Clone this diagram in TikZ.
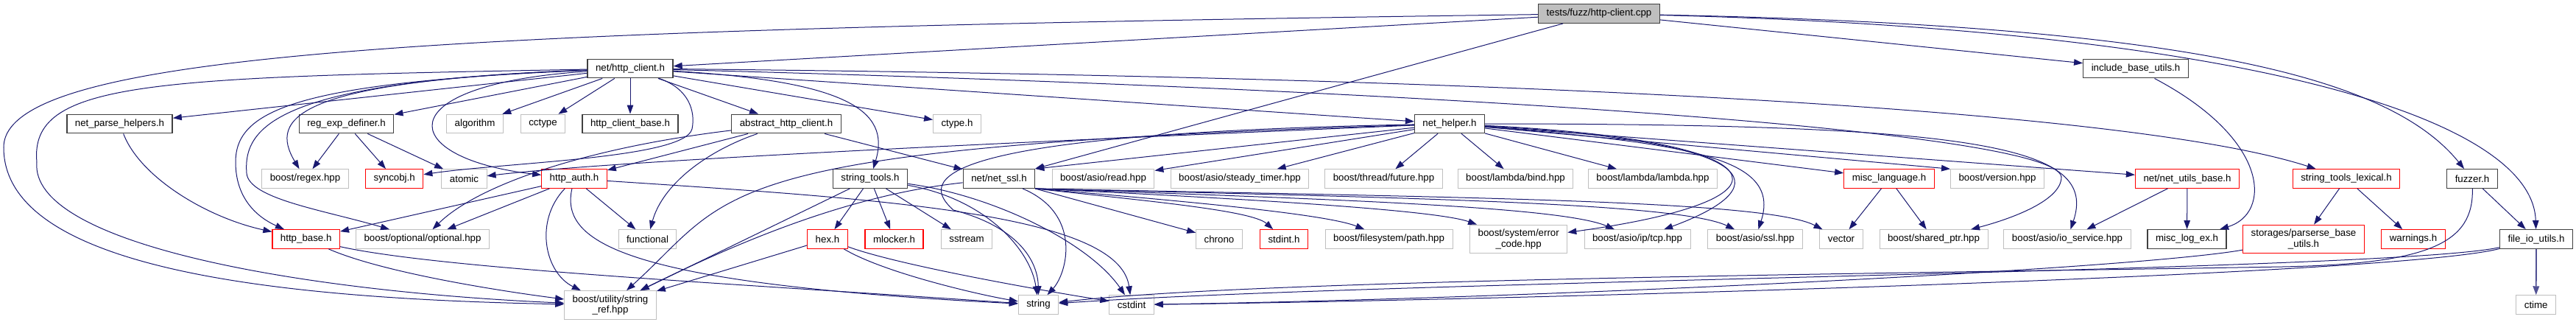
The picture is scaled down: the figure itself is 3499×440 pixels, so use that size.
\documentclass[tikz,border=0pt]{standalone}
\usepackage{fontspec}
\setmainfont{Liberation Sans}
\usetikzlibrary{arrows.meta}
\definecolor{cedge}{HTML}{191970}
\definecolor{cgrey}{HTML}{BFBFBF}
\definecolor{cred}{HTML}{FF0000}
\definecolor{cdark}{HTML}{404040}
\tikzset{
  hdr/.style={draw=#1, fill=white, line width=1pt, align=center, inner xsep=11pt, inner ysep=6pt,
    minimum height=25.5pt, font=\fontsize{13.3}{14.3}\selectfont},
  hdr/.default=cgrey,
  hdrdoc/.style={hdr=cdark, line width=1.4pt},
  hdrred/.style={hdr=cred, line width=1.2pt},
  hdrroot/.style={hdrdoc, fill=cgrey},
  dep/.style={-{Triangle[length=12pt,width=8.5pt]}, draw=cedge, line width=1pt},
}
\begin{document}
\begin{tikzpicture}[x=1pt, y=-1pt]
  \fill[white] (0,0) rectangle (3499,440);
  \useasboundingbox (0,0) rectangle (3499,440);

  \node[hdrroot] (root) at (2172,18.5) {tests/fuzz/http-client.cpp};
  \node[hdrdoc] (httpclient) at (856,93) {net/http\_client.h};
  \node[hdrdoc] (includebase) at (2901,93) {include\_base\_utils.h};

  \node[hdrdoc] (netparse) at (162.5,168) {net\_parse\_helpers.h};
  \node[hdrdoc] (regexp) at (470.5,168) {reg\_exp\_definer.h};
  \node[hdr] (algorithm) at (645,168) {algorithm};
  \node[hdr] (cctype) at (737.5,168) {cctype};
  \node[hdrdoc] (clientbase) at (856,168) {http\_client\_base.h};
  \node[hdrdoc] (abstractclient) at (1068,168) {abstract\_http\_client.h};
  \node[hdr] (ctypeh) at (1300,168) {ctype.h};
  \node[hdrdoc, line width=1pt] (nethelper) at (1969,168) {net\_helper.h};

  \node[hdr] (regex) at (414.5,242.5) {boost/regex.hpp};
  \node[hdrred] (syncobj) at (535.7,242.5) {syncobj.h};
  \node[hdr] (atomic) at (630.5,242.5) {atomic};
  \node[hdrred] (httpauth) at (780,242.5) {http\_auth.h};
  \node[hdrdoc] (stringtools) at (1182,242.5) {string\_tools.h};
  \node[hdrdoc] (netssl) at (1357,242.5) {net/net\_ssl.h};
  \node[hdr] (asioread) at (1498.5,242.5) {boost/asio/read.hpp};
  \node[hdr] (steadytimer) at (1684,242.5) {boost/asio/steady\_timer.hpp};
  \node[hdr] (future) at (1879.5,242.5) {boost/thread/future.hpp};
  \node[hdr] (lbind) at (2058.5,242.5) {boost/lambda/bind.hpp};
  \node[hdr] (llambda) at (2245,242.5) {boost/lambda/lambda.hpp};
  \node[hdrred] (misclang) at (2566,242.5) {misc\_language.h};
  \node[hdr] (version) at (2713,242.5) {boost/version.hpp};
  \node[hdrred] (netutils) at (2971,242.5) {net/net\_utils\_base.h};
  \node[hdrred] (lexical) at (3187,242.5) {string\_tools\_lexical.h};
  \node[hdrdoc] (fuzzer) at (3358,242.5) {fuzzer.h};

  \node[hdrred] (httpbase) at (415.7,324.5) {http\_base.h};
  \node[hdr] (optional) at (574,324.5) {boost/optional/optional.hpp};
  \node[hdr] (functional) at (879.5,324.5) {functional};
  \node[hdrred] (hex) at (1124,324.5) {hex.h};
  \node[hdrred] (mlocker) at (1214.5,324.5) {mlocker.h};
  \node[hdr] (sstream) at (1313,324.5) {sstream};
  \node[hdr] (chrono) at (1656,324.5) {chrono};
  \node[hdrred] (stdint) at (1744,324.5) {stdint.h};
  \node[hdr] (fspath) at (1886.6,324.5) {boost/filesystem/path.hpp};
  \node[hdr] (errorcode) at (2062.7,324.5) {boost/system/error\\\_code.hpp};
  \node[hdr] (tcp) at (2224,324.5) {boost/asio/ip/tcp.hpp};
  \node[hdr] (asiossl) at (2384,324.5) {boost/asio/ssl.hpp};
  \node[hdr] (vector) at (2501,324.5) {vector};
  \node[hdr] (sharedptr) at (2626.5,324.5) {boost/shared\_ptr.hpp};
  \node[hdr] (ioservice) at (2808,324.5) {boost/asio/io\_service.hpp};
  \node[hdrdoc] (misclog) at (2970.5,324.5) {misc\_log\_ex.h};
  \node[hdrred] (parserse) at (3129,324.5) {storages/parserse\_base\\\_utils.h};
  \node[hdrred] (warnings) at (3278,324.5) {warnings.h};
  \node[hdrdoc] (fileio) at (3445,324.5) {file\_io\_utils.h};

  \node[hdr] (stringref) at (829,414) {boost/utility/string\\\_ref.hpp};
  \node[hdr] (string) at (1410.5,413.5) {string};
  \node[hdr] (cstdint) at (1537,413.5) {cstdint};
  \node[hdr] (ctime) at (3444.7,413.5) {ctime};

  \draw[dep] (root) -- (httpclient);
  \draw[dep] (root) -- (includebase);
  \draw[dep] (root) -- (netssl);
  \draw[dep] (root) .. controls (3000,35) and (3250,110) .. (fuzzer);
  \draw[dep] (root) .. controls (3050,40) and (3440,160) .. (fileio);
  \draw[dep] (root) .. controls (600,40) and (5,70) .. (5,200) .. controls (5,360) and (350,405) .. (stringref);
  \draw[dep] (includebase) .. controls (3085,190) and (3085,290) .. (misclog);

  \draw[dep] (httpclient) -- (netparse);
  \draw[dep] (httpclient) -- (regexp);
  \draw[dep] (httpclient) -- (algorithm);
  \draw[dep] (httpclient) -- (cctype);
  \draw[dep] (httpclient) -- (clientbase);
  \draw[dep] (httpclient) -- (abstractclient);
  \draw[dep] (httpclient) -- (ctypeh);
  \draw[dep] (httpclient) -- (nethelper);
  \draw[dep] (httpclient) .. controls (1150,110) and (1210,150) .. (stringtools);
  \draw[dep] (httpclient) .. controls (2100,105) and (2900,150) .. (lexical);
  \draw[dep] (httpclient) .. controls (520,115) and (540,215) .. (httpauth);
  \draw[dep] (httpclient) .. controls (935,120) and (945,150) .. (940,175) .. controls (930,215) and (690,220) .. (syncobj);
  \draw[dep] (httpclient) .. controls (400,110) and (365,160) .. (regex);
  \draw[dep] (httpclient) .. controls (380,110) and (330,170) .. (335,235) .. controls (338,270) and (440,285) .. (optional);
  \draw[dep] (httpclient) .. controls (400,112) and (320,150) .. (320,220) .. controls (320,270) and (350,295) .. (httpbase);
  \draw[dep] (httpclient) .. controls (200,105) and (40,110) .. (50,220) .. controls (40,330) and (400,395) .. (stringref);
  \draw[dep] (httpclient) .. controls (1900,120) and (2790,175) .. (2800,240) .. controls (2800,275) and (2720,300) .. (sharedptr);

  \draw[dep] (abstractclient) .. controls (800,200) and (650,250) .. (optional);
  \draw[dep] (abstractclient) -- (httpauth);
  \draw[dep] (abstractclient) .. controls (960,205) and (900,250) .. (functional);
  \draw[dep] (abstractclient) -- (netssl);

  \draw[dep] (httpauth) -- (httpbase);
  \draw[dep] (httpauth) -- (optional);
  \draw[dep] (httpauth) -- (functional);
  \draw[dep] (httpauth) .. controls (725,300) and (740,370) .. (stringref);
  \draw[dep] (httpauth) .. controls (760,330) and (850,385) .. (string);
  \draw[dep] (httpauth) .. controls (1200,270) and (1520,290) .. (cstdint);

  \draw[dep] (netparse) .. controls (190,240) and (280,295) .. (httpbase);
  \draw[dep] (regexp) -- (regex);
  \draw[dep] (regexp) -- (syncobj);
  \draw[dep] (regexp) -- (atomic);

  \draw[dep] (stringtools) -- (hex);
  \draw[dep] (stringtools) -- (mlocker);
  \draw[dep] (stringtools) -- (sstream);
  \draw[dep] (stringtools) -- (stringref);
  \draw[dep] (stringtools) .. controls (1340,270) and (1400,340) .. (string);
  \draw[dep] (stringtools) .. controls (1350,265) and (1480,330) .. (cstdint);

  \draw[dep] (hex) -- (stringref);
  \draw[dep] (hex) .. controls (1200,370) and (1330,400) .. (string);
  \draw[dep] (hex) .. controls (1220,360) and (1420,395) .. (cstdint);

  \draw[dep] (httpbase) .. controls (520,370) and (680,395) .. (stringref);
  \draw[dep] (httpbase) .. controls (600,365) and (1000,385) .. (string);

  \draw[dep] (netssl) -- (chrono);
  \draw[dep] (netssl.south east) .. controls (1550,272) and (1700,285) .. (stdint);
  \draw[dep] (netssl.south east) .. controls (1600,272) and (1800,290) .. (fspath);
  \draw[dep] (netssl.south east) .. controls (1700,270) and (1950,285) .. (errorcode);
  \draw[dep] (netssl.south east) .. controls (1800,270) and (2120,280) .. (tcp);
  \draw[dep] (netssl.south east) .. controls (1900,268) and (2280,275) .. (asiossl);
  \draw[dep] (netssl.south east) .. controls (2000,268) and (2400,272) .. (vector);
  \draw[dep] (netssl) .. controls (1470,290) and (1450,370) .. (string);
  \draw[dep] (netssl) .. controls (1150,265) and (1000,330) .. (stringref);

  \draw[dep] (nethelper) -- (netssl.north east);
  \draw[dep] (nethelper) -- (asioread);
  \draw[dep] (nethelper) -- (steadytimer);
  \draw[dep] (nethelper) -- (future);
  \draw[dep] (nethelper) -- (lbind);
  \draw[dep] (nethelper) -- (llambda);
  \draw[dep] (nethelper) -- (misclang);
  \draw[dep] (nethelper) -- (version.north west);
  \draw[dep] (nethelper) -- (netutils);
  \draw[dep] (nethelper) .. controls (2700,168) and (2850,200) .. (ioservice);
  \draw[dep] (nethelper) .. controls (2300,195) and (2420,215) .. (asiossl);
  \draw[dep] (nethelper) .. controls (2420,190) and (2460,270) .. (errorcode);
  \draw[dep] (nethelper) .. controls (2430,195) and (2400,260) .. (tcp);
  \draw[dep] (nethelper) .. controls (1200,200) and (800,222) .. (atomic);
  \draw[dep] (nethelper) .. controls (1250,182) and (1250,245) .. (1295,285) .. controls (1390,310) and (1410,360) .. (string);
  \draw[dep] (nethelper) .. controls (950,200) and (1000,260) .. (stringref);

  \draw[dep] (misclang) -- (vector);
  \draw[dep] (misclang) -- (sharedptr);
  \draw[dep] (netutils) -- (ioservice);
  \draw[dep] (netutils) -- (misclog);
  \draw[dep] (lexical) -- (parserse);
  \draw[dep] (lexical) -- (warnings);
  \draw[dep] (fuzzer) -- (fileio);
  \draw[dep] (fuzzer) .. controls (3360,330) and (3300,358) .. (3100,362) .. controls (2500,372) and (1700,380) .. (string);
  \draw[dep] (fileio) .. controls (3250,368) and (1900,380) .. (string);
  \draw[dep] (fileio) .. controls (3250,375) and (2000,408) .. (cstdint);
  \draw[dep] (parserse) .. controls (2900,365) and (2100,405) .. (cstdint);
  \draw[dep, line width=1.8pt, draw=cedge!75] (fileio) -- (ctime);
\end{tikzpicture}
\end{document}
